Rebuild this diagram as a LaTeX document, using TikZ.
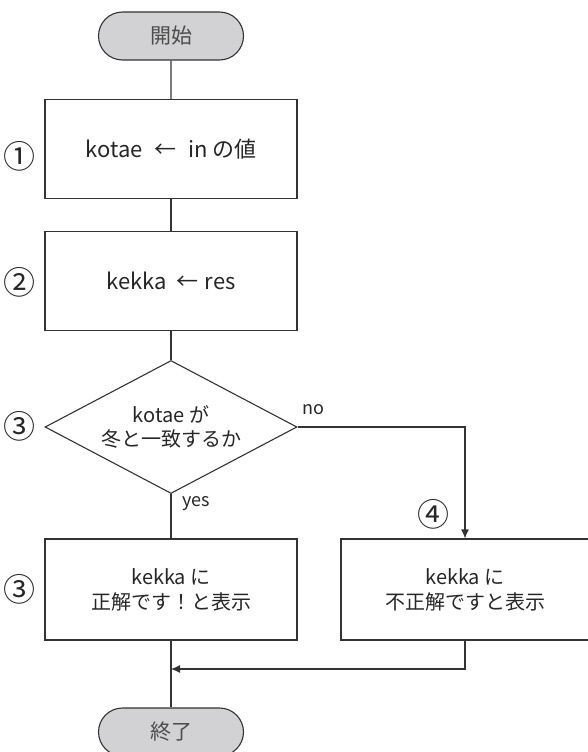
\documentclass[tikz,border=0pt]{standalone}
\usepackage{fontspec}
\setmainfont{Noto Sans CJK JP}
\usetikzlibrary{shapes.geometric,shapes.misc,arrows.meta}
\definecolor{ln}{HTML}{333333}
\definecolor{term}{HTML}{D2D2D4}
\tikzset{
  every node/.style={text=black!85},
  proc/.style={draw=ln,line width=1.1pt,rectangle,minimum width=252pt,minimum height=99pt,inner sep=0pt,align=center,font=\fontsize{20}{25}\selectfont},
  termbox/.style={draw=ln,line width=1.1pt,rounded rectangle,fill=term,minimum width=145pt,minimum height=48pt,inner sep=0pt,font=\fontsize{21}{25}\selectfont,text=black!70},
  decbox/.style={draw=ln,line width=1.1pt,diamond,minimum width=252pt,minimum height=133pt,inner sep=0pt},
  conn/.style={draw=ln,line width=1.1pt},
  arr/.style={conn,-{Latex[length=9pt,width=8pt]}},
  num/.style={font=\fontsize{32}{36}\selectfont,inner sep=0pt},
  lab/.style={font=\fontsize{18}{22}\selectfont,inner sep=0pt},
}
\begin{document}
\begin{tikzpicture}[x=1pt,y=-1pt]
\useasboundingbox (0,0) rectangle (587,752);
\node[termbox] (start) at (171,36) {開始};
\node[proc,font=\fontsize{22}{26}\selectfont] (b1) at (171,149) {kotae\hspace{12pt}←\hspace{12pt}in\hspace{4pt}の値};
\node[proc,font=\fontsize{22}{26}\selectfont] (b2) at (171,281) {kekka\hspace{10pt}←\hspace{6pt}res};
\node[decbox] (d) at (171,427) {};
\node[align=center,font=\fontsize{20}{24}\selectfont,inner sep=0pt] (dt) at (d) {kotae が\\冬と一致するか};
\node[proc,minimum height=101pt] (b3) at (171,589.5) {kekka に\\正解です！と表示};
\node[proc,minimum height=101pt,minimum width=248pt] (b4) at (465,589.5) {kekka に\\不正解ですと表示};
\node[termbox] (end) at (171,732) {終了};
\coordinate (m) at (171,669);
\node[num] (n1) at (20,156) {①};
\node[num] (n2) at (20,282) {②};
\node[num] (n3) at (20,426) {③};
\node[num] (n3b) at (20,589) {③};
\node[num] (n4) at (433,514) {④};
\node[lab,anchor=west] (no) at (302,410) {no};
\node[lab,anchor=west] (yes) at (182,504) {yes};
\draw[conn] (start) -- (b1);
\draw[conn] (b1) -- (b2);
\draw[conn] (b2) -- (d.north);
\draw[conn] (d.south) -- (b3.north);
\draw[arr] (d.east) -| (b4.north);
\draw[conn] (b3.south) -- (end.north);
\draw[arr] (b4.south) |- (m);
\end{tikzpicture}
\end{document}
